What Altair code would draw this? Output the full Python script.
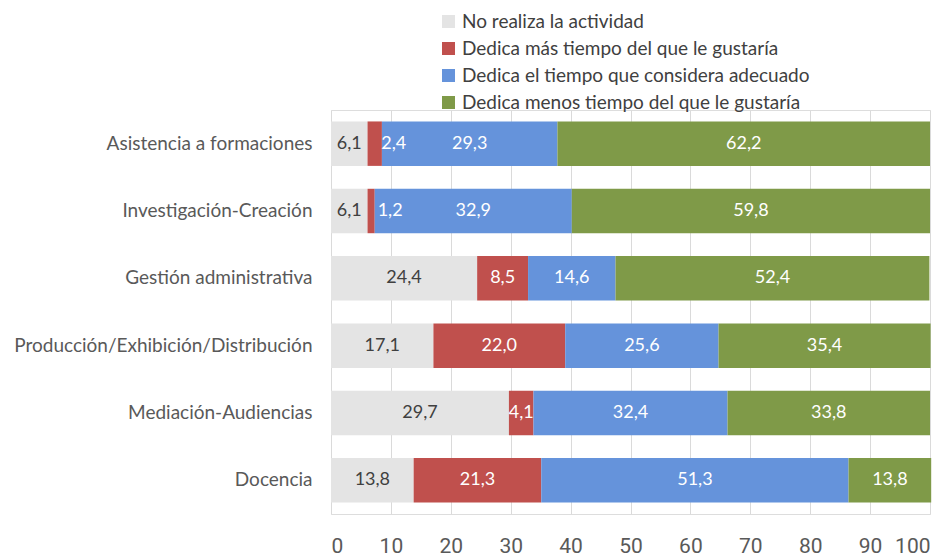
import altair as alt
import pandas as pd

categories = ["Asistencia a formaciones", "Investigación-Creación", "Gestión administrativa",
              "Producción/Exhibición/Distribución", "Mediación-Audiencias", "Docencia"]
series = ["No realiza la actividad", "Dedica más tiempo del que le gustaría",
          "Dedica el tiempo que considera adecuado", "Dedica menos tiempo del que le gustaría"]
no_realiza = [6.1, 6.1, 24.4, 17.1, 29.7, 13.8]
mas_tiempo = [2.4, 1.2, 8.5, 22.0, 4.1, 21.3]
adecuado = [29.3, 32.9, 14.6, 25.6, 32.4, 51.3]
menos_tiempo = [62.2, 59.8, 52.4, 35.4, 33.8, 13.8]
colors = ["#e4e4e4", "#c0504d", "#6593db", "#7f9a48"]
x_ticks = [0, 10, 20, 30, 40, 50, 60, 70, 80, 90, 100]

rows = []
for i, c in enumerate(categories):
    start = 0.0
    for j, vals in enumerate([no_realiza, mas_tiempo, adecuado, menos_tiempo]):
        v = vals[i]
        rows.append({"cat": c, "serie": series[j], "ord": j, "v": v,
                     "x0": start, "x1": start + v, "mid": start + v / 2,
                     "lab": f"{v:.1f}".replace(".", ",")})
        start += v
df = pd.DataFrame(rows)

FONT = "Lato"
yenc = alt.Y("cat:N", sort=categories, title=None,
             scale=alt.Scale(paddingInner=0.34),
             axis=alt.Axis(labelFontSize=19, labelColor="#595959", labelFont=FONT,
                           ticks=False, domain=False, labelPadding=19, grid=False,
                           labelLimit=400))

bars = alt.Chart(df).mark_bar().encode(
    x=alt.X("x0:Q", title=None,
            scale=alt.Scale(domain=[0, 100], nice=False),
            axis=alt.Axis(values=x_ticks, labelFontSize=21, labelColor="#595959",
                          labelFont="Roboto",
                          ticks=False, domain=False, labelPadding=21, grid=True,
                          gridColor="#dadada", gridWidth=1)),
    x2="x1:Q",
    y=yenc,
    color=alt.Color("serie:N", sort=series,
                    scale=alt.Scale(domain=series, range=colors),
                    legend=alt.Legend(title=None, orient="none", legendX=108, legendY=-98,
                                      labelFontSize=19, labelColor="#404040", labelFont=FONT,
                                      symbolType="square", symbolSize=170, symbolStrokeWidth=0,
                                      rowPadding=7, labelOffset=4, labelLimit=400)),
    order=alt.Order("ord:Q"),
)

base_text = alt.Chart(df).encode(
    x=alt.X("mid:Q"), y=alt.Y("cat:N", sort=categories), text="lab:N")

t_first = base_text.transform_filter("datum.ord == 0").mark_text(
    fontSize=18, font=FONT, color="#404040")
t_other = base_text.transform_filter("datum.ord > 0 && !(datum.ord == 1 && datum.v < 3)").mark_text(
    fontSize=18, font=FONT, color="white")
t_small = base_text.transform_filter("datum.ord == 1 && datum.v < 3").mark_text(
    fontSize=18, font=FONT, color="white", dx=19)

chart = alt.layer(bars, t_first, t_other, t_small).properties(
    width=599, height=404,
    autosize=alt.AutoSizeParams(type="none"),
    padding={"left": 323, "top": 102, "right": 2, "bottom": 43},
).configure_view(stroke=None).configure(background="white")

chart.save("out.html", embed_options={"renderer": "svg", "actions": False})
